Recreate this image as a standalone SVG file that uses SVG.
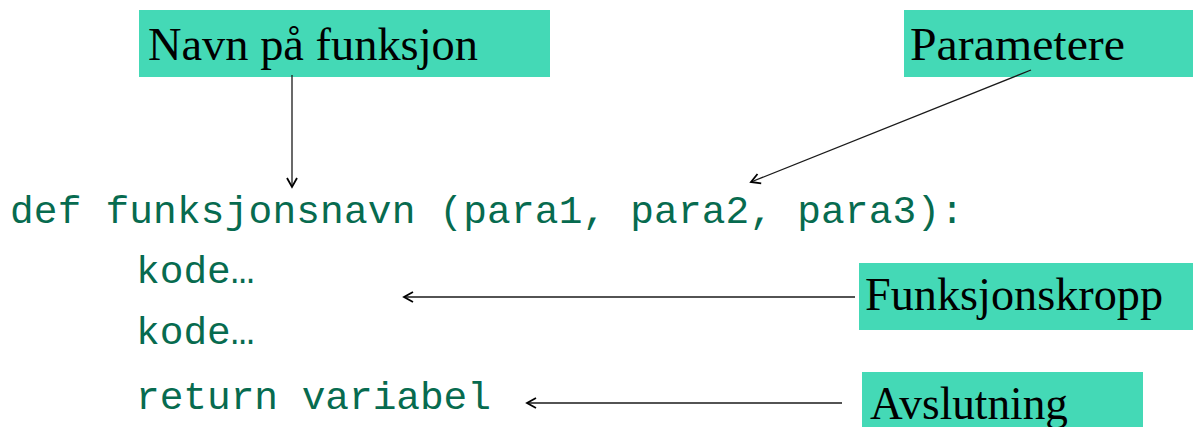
<svg xmlns="http://www.w3.org/2000/svg" width="1193" height="427" viewBox="0 0 1193 427">
  <style>
    .box { fill: #44d9b6; }
    .lbl { font-family: "Liberation Serif", "Times New Roman", serif; font-size: 46px; fill: #000; }
    .code { font-family: "Liberation Mono", "Courier New", monospace; font-size: 39.5px; fill: #076b4f; }
    .conn { stroke: #1a1a1a; stroke-width: 1.3; fill: none; marker-end: url(#arr); }
  </style>
  <defs>
    <marker id="arr" markerUnits="userSpaceOnUse" viewBox="-12 -7 14 14" markerWidth="14" markerHeight="14" refX="0" refY="0" orient="auto" overflow="visible">
      <path d="M-9,-5 L0,0 L-9,5" fill="none" stroke="#000" stroke-width="1.8" stroke-linejoin="miter"/>
    </marker>
  </defs>
  <rect width="1193" height="427" fill="#fff"/>

  <g id="code">
    <text class="code" x="10" y="223" textLength="954" lengthAdjust="spacing">def funksjonsnavn (para1, para2, para3):</text>
    <text class="code" x="136" y="283">kode…</text>
    <text class="code" x="136" y="344">kode…</text>
    <text class="code" x="136" y="409" textLength="355" lengthAdjust="spacing">return variabel</text>
  </g>

  <g id="navn">
    <rect class="box" x="139" y="10" width="411" height="67"/>
    <text class="lbl" x="148" y="60" textLength="330" lengthAdjust="spacingAndGlyphs">Navn på funksjon</text>
  </g>
  <g id="parametere">
    <rect class="box" x="904" y="10" width="289" height="67"/>
    <text class="lbl" x="910" y="60" textLength="215" lengthAdjust="spacingAndGlyphs">Parametere</text>
  </g>
  <g id="funksjonskropp">
    <rect class="box" x="859" y="263" width="334" height="67"/>
    <text class="lbl" x="865" y="310" textLength="298" lengthAdjust="spacingAndGlyphs">Funksjonskropp</text>
  </g>
  <g id="avslutning">
    <rect class="box" x="862" y="372" width="281" height="55"/>
    <text class="lbl" x="870" y="419" textLength="198" lengthAdjust="spacingAndGlyphs">Avslutning</text>
  </g>

  <g id="connectors">
    <line class="conn" x1="292" y1="75" x2="292" y2="187"/>
    <line class="conn" x1="1031" y1="70" x2="751" y2="182"/>
    <line class="conn" x1="855" y1="297" x2="404" y2="297"/>
    <line class="conn" x1="842" y1="403" x2="527" y2="403"/>
  </g>
</svg>
